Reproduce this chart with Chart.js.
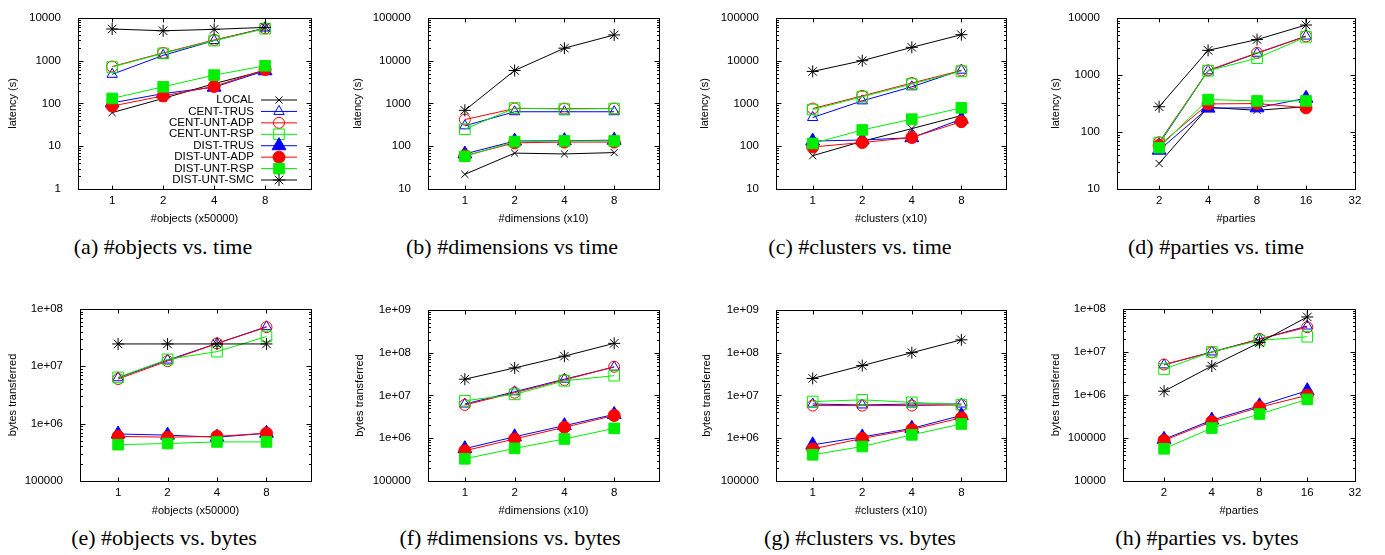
<!DOCTYPE html>
<html>
<head>
<meta charset="utf-8">
<script src="https://cdn.jsdelivr.net/npm/chart.js@4.4.1/dist/chart.umd.min.js"></script>
<style>
  body { margin: 0; background: #fff; width: 1385px; height: 555px; position: relative; overflow: hidden; }
  .cap { position: absolute; font-family: "Liberation Serif", "Times New Roman", serif; font-size: 22px; color: #000;
         white-space: nowrap; transform: translate(-50%, -50%); }
</style>
</head>
<body>
<script>
// ==================== DATA ====================

const seriesNames = ['LOCAL', 'CENT-TRUS', 'CENT-UNT-ADP', 'CENT-UNT-RSP',
                     'DIST-TRUS', 'DIST-UNT-ADP', 'DIST-UNT-RSP', 'DIST-UNT-SMC'];

const scaleX = [1, 2, 4, 8];          // x10 / x50000 multipliers
const partyX = [2, 4, 8, 16];
const scaleXTicks = [1, 2, 4, 8];
const partyXTicks = [2, 4, 8, 16, 32];

const ticksTimeA = [1, 10, 100, 1000, 10000];
const ticksTimeBC = [10, 100, 1000, 10000, 100000];
const ticksTimeD = [10, 100, 1000, 10000];
const ticksBytesE = [1e5, 1e6, 1e7, 1e8];
const ticksBytesFG = [1e5, 1e6, 1e7, 1e8, 1e9];
const ticksBytesH = [1e4, 1e5, 1e6, 1e7, 1e8];

// rows follow seriesNames; null = series not plotted
const objectsTime = [
    [61, 131, 290, 590],
    [480, 1330, 2950, 5800],
    [730, 1520, 3050, 5700],
    [710, 1480, 2950, 5600],
    [103, 170, 240, 580],
    [87, 150, 250, 620],
    [131, 245, 460, 760],
    [5500, 5000, 5400, 6000]
];
const dimensionsTime = [
    [22, 69, 66, 71],
    [300, 640, 640, 640],
    [420, 760, 760, 760],
    [250, 780, 740, 760],
    [66, 132, 135, 138],
    [60, 120, 125, 125],
    [58, 128, 133, 133],
    [690, 5900, 19600, 40000]
];
const clustersTime = [
    [60, 130, 258, 520],
    [470, 1150, 2450, 6000],
    [760, 1500, 3000, 5900],
    [720, 1430, 2850, 5700],
    [132, 140, 158, 430],
    [96, 122, 160, 375],
    [116, 240, 430, 790],
    [5600, 10000, 20500, 40500]
];
const partiesTime = [
    [28, 270, 240, 277],
    [62, 1180, 2400, 4800],
    [66, 1200, 2430, 4750],
    [64, 1180, 1970, 4650],
    [48, 262, 265, 390],
    [58, 310, 315, 265],
    [53, 370, 350, 350],
    [277, 2700, 4170, 7500]
];
const objectsBytes = [
    null,
    [6.3e6, 1.28e7, 2.5e7, 4.9e7],
    [6.0e6, 1.23e7, 2.5e7, 4.8e7],
    [6.4e6, 1.32e7, 1.8e7, 3.3e7],
    [6.6e5, 6.3e5, 5.8e5, 6.8e5],
    [6.0e5, 5.8e5, 6.0e5, 6.8e5],
    [4.3e5, 4.5e5, 4.8e5, 4.8e5],
    [2.45e7, 2.45e7, 2.45e7, 2.45e7]
];
const dimensionsBytes = [
    null,
    [6.3e6, 1.22e7, 2.4e7, 4.6e7],
    [6.0e6, 1.16e7, 2.3e7, 4.7e7],
    [7.5e6, 1.06e7, 2.2e7, 2.9e7],
    [5.7e5, 1.08e6, 1.97e6, 3.6e6],
    [5.1e5, 9.6e5, 1.8e6, 3.4e6],
    [3.3e5, 5.8e5, 9.6e5, 1.7e6],
    [2.4e7, 4.4e7, 8.3e7, 1.65e8]
];
const clustersBytes = [
    null,
    [6.3e6, 6.0e6, 6.3e6, 6.3e6],
    [5.8e6, 5.8e6, 5.8e6, 6.0e6],
    [7.2e6, 7.9e6, 6.9e6, 6.1e6],
    [7.0e5, 1.07e6, 1.7e6, 3.4e6],
    [5.6e5, 9.9e5, 1.6e6, 3.0e6],
    [4.1e5, 6.4e5, 1.2e6, 2.15e6],
    [2.5e7, 5.0e7, 1.0e8, 2.0e8]
];
const partiesBytes = [
    null,
    [5.0e6, 1.0e7, 1.97e7, 4.0e7],
    [5.1e6, 9.8e6, 2.0e7, 3.75e7],
    [4.0e6, 1.0e7, 1.85e7, 2.25e7],
    [9.3e4, 2.6e5, 5.6e5, 1.26e6],
    [8.8e4, 2.4e5, 5.2e5, 9.8e5],
    [5.6e4, 1.7e5, 3.6e5, 7.9e5],
    [1.22e6, 4.7e6, 1.65e7, 6.5e7]
];

// ==================== STYLES ====================

const seriesColors = ['#000000', '#0000ff', '#ff0000', '#00ee00', '#0000ff', '#ff0000', '#00ee00', '#000000'];
const seriesMarkers = ['crossRot', 'triangle', 'circle', 'rect', 'triangle', 'circle', 'rect', 'star'];
const seriesFilled = [false, false, false, false, true, true, true, false];
const seriesRadius = [5, 6, 5.5, 7.5, 8, 6, 7.5, 6];

// frame box [left, right, top, bottom] in page px
const panels = [
    { data: objectsTime, xs: scaleX, xTicks: scaleXTicks, yTicks: ticksTimeA, xRange: [-0.67, 3.9],
      xTitle: '#objects (x50000)', yTitle: 'latency (s)', box: [78, 312, 10, 189], yGap: 65,
      caption: '(a) #objects vs. time', cap: [163, 247], legend: true },
    { data: dimensionsTime, xs: scaleX, xTicks: scaleXTicks, yTicks: ticksTimeBC, xRange: [-0.74, 3.9],
      xTitle: '#dimensions (x10)', yTitle: 'latency (s)', box: [428, 660, 10, 189], yGap: 70,
      caption: '(b) #dimensions vs time', cap: [512, 247] },
    { data: clustersTime, xs: scaleX, xTicks: scaleXTicks, yTicks: ticksTimeBC, xRange: [-0.74, 3.9],
      xTitle: '#clusters (x10)', yTitle: 'latency (s)', box: [776, 1007, 10, 189], yGap: 71,
      caption: '(c) #clusters vs. time', cap: [860, 247] },
    { data: partiesTime, xs: partyX, xTicks: partyXTicks, yTicks: ticksTimeD, xRange: [0.14, 5.0],
      xTitle: '#parties', yTitle: 'latency (s)', box: [1117, 1356, 10, 189], yGap: 61,
      caption: '(d) #parties vs. time', cap: [1216, 247] },
    { data: objectsBytes, xs: scaleX, xTicks: scaleXTicks, yTicks: ticksBytesE, xRange: [-0.77, 3.9],
      xTitle: '#objects (x50000)', yTitle: 'bytes transferred', box: [80, 312, 301, 481], yGap: 67,
      caption: '(e) #objects vs. bytes', cap: [164, 538] },
    { data: dimensionsBytes, xs: scaleX, xTicks: scaleXTicks, yTicks: ticksBytesFG, xRange: [-0.74, 3.9],
      xTitle: '#dimensions (x10)', yTitle: 'bytes transferred', box: [428, 660, 302, 481], yGap: 68,
      caption: '(f) #dimensions vs. bytes', cap: [510, 538] },
    { data: clustersBytes, xs: scaleX, xTicks: scaleXTicks, yTicks: ticksBytesFG, xRange: [-0.74, 3.9],
      xTitle: '#clusters (x10)', yTitle: 'bytes transferred', box: [776, 1007, 302, 481], yGap: 69,
      caption: '(g) #clusters vs. bytes', cap: [860, 538] },
    { data: partiesBytes, xs: partyX, xTicks: partyXTicks, yTicks: ticksBytesH, xRange: [0.14, 5.0],
      xTitle: '#parties', yTitle: 'bytes transferred', box: [1123, 1356, 301, 481], yGap: 67,
      caption: '(h) #parties vs. bytes', cap: [1207, 538] }
];

const FONT = '"Liberation Sans", Arial, Helvetica, sans-serif';
const Y_AXIS_W = 80;
const X_AXIS_H = 41;
const PAD = 8;

Chart.defaults.font.family = FONT;
Chart.defaults.color = '#000';

function yLabel(v) {
    if (v >= 1e6) return '1e+' + String(Math.round(Math.log10(v))).padStart(2, '0');
    return String(v);
}

// gnuplot style frame with inward ticks
const gnuFrame = {
    id: 'gnuFrame',
    afterDraw(chart) {
        const { ctx, chartArea: a, scales } = chart;
        const xs = scales.x, ys = scales.y;
        ctx.save();
        ctx.strokeStyle = '#000';
        ctx.lineWidth = 1;
        const l = Math.round(a.left) + 0.5, r = Math.round(a.right) + 0.5;
        const t = Math.round(a.top) + 0.5, b = Math.round(a.bottom) + 0.5;
        ctx.strokeRect(l, t, r - l, b - t);
        ctx.beginPath();
        ys.ticks.forEach(tk => {
            const py = Math.round(ys.getPixelForValue(tk.value)) + 0.5;
            ctx.moveTo(l, py); ctx.lineTo(l + 5, py);
            ctx.moveTo(r, py); ctx.lineTo(r - 5, py);
            if (tk.value < ys.max) {
                for (let m = 2; m < 10; m++) {
                    const my = Math.round(ys.getPixelForValue(tk.value * m)) + 0.5;
                    ctx.moveTo(l, my); ctx.lineTo(l + 2.5, my);
                    ctx.moveTo(r, my); ctx.lineTo(r - 2.5, my);
                }
            }
        });
        xs.ticks.forEach(tk => {
            const px = Math.round(xs.getPixelForValue(tk.value)) + 0.5;
            ctx.moveTo(px, b); ctx.lineTo(px, b - 4);
            ctx.moveTo(px, t); ctx.lineTo(px, t + 4);
        });
        ctx.stroke();
        ctx.restore();
    }
};

// key drawn inside the plot, text right of sample like gnuplot
const insideKey = {
    id: 'insideKey',
    afterDatasetsDraw(chart, args, opts) {
        if (!opts.show) return;
        const { ctx, chartArea: a } = chart;
        ctx.save();
        ctx.font = '11.5px ' + FONT;
        ctx.textAlign = 'right';
        ctx.textBaseline = 'middle';
        chart.data.datasets.forEach((ds, i) => {
            const y = a.bottom - 89 + i * 11.43;
            ctx.fillStyle = '#000';
            ctx.fillText(ds.label, a.right - 57, y);
            ctx.strokeStyle = ds.borderColor;
            ctx.lineWidth = 1;
            ctx.beginPath();
            ctx.moveTo(a.right - 50, y);
            ctx.lineTo(a.right - 14, y);
            ctx.stroke();
            ctx.fillStyle = ds.pointBackgroundColor;
            ctx.strokeStyle = ds.pointBorderColor;
            Chart.helpers.drawPoint(ctx, {
                pointStyle: ds.pointStyle, radius: ds.pointRadius, borderWidth: 1, rotation: 0
            }, a.right - 32, y);
        });
        ctx.restore();
    }
};

function buildDatasets(p) {
    const out = [];
    p.data.forEach((row, i) => {
        if (!row) return;
        out.push({
            label: seriesNames[i],
            data: row.map((v, k) => ({ x: Math.log2(p.xs[k]), y: v })),
            borderColor: seriesColors[i],
            borderWidth: 1,
            pointStyle: seriesMarkers[i],
            pointRadius: seriesRadius[i],
            pointBorderColor: seriesColors[i],
            pointBackgroundColor: seriesFilled[i] ? seriesColors[i] : 'rgba(0,0,0,0)',
            pointBorderWidth: 1,
            tension: 0,
            order: seriesNames.length - i
        });
    });
    return out;
}

panels.forEach(p => {
    const [L, R, T, B] = p.box;
    const w = R - L + Y_AXIS_W + PAD;
    const h = B - T + PAD + X_AXIS_H;
    const cv = document.createElement('canvas');
    cv.width = w;
    cv.height = h;
    cv.style.cssText = `position:absolute;left:${L - Y_AXIS_W}px;top:${T - PAD}px;width:${w}px;height:${h}px`;
    document.body.appendChild(cv);

    new Chart(cv.getContext('2d'), {
        type: 'line',
        data: { datasets: buildDatasets(p) },
        options: {
            responsive: false,
            animation: false,
            devicePixelRatio: 1,
            events: [],
            layout: { padding: { top: PAD, right: PAD, left: 0, bottom: 0 } },
            plugins: {
                legend: { display: false },
                tooltip: { enabled: false },
                insideKey: { show: !!p.legend }
            },
            scales: {
                x: {
                    type: 'linear',
                    min: p.xRange[0],
                    max: p.xRange[1],
                    grid: { display: false },
                    border: { display: false },
                    afterBuildTicks: s => { s.ticks = p.xTicks.map(v => ({ value: Math.log2(v) })); },
                    afterFit: s => { s.height = X_AXIS_H; },
                    ticks: {
                        autoSkip: false, maxRotation: 0, padding: -3,
                        font: { size: 11.5 },
                        callback: v => String(Math.round(Math.pow(2, v)))
                    },
                    title: { display: true, text: p.xTitle, font: { size: 11 }, padding: { top: 4, bottom: 4 } }
                },
                y: {
                    type: 'logarithmic',
                    min: p.yTicks[0],
                    max: p.yTicks[p.yTicks.length - 1],
                    grid: { display: false },
                    border: { display: false },
                    afterBuildTicks: s => { s.ticks = p.yTicks.map(v => ({ value: v, major: true })); },
                    afterFit: s => { s.width = Y_AXIS_W; },
                    ticks: {
                        autoSkip: false, padding: 9,
                        font: { size: 11.5 },
                        callback: v => yLabel(v)
                    },
                    title: { display: true, text: p.yTitle, font: { size: 11 },
                             padding: { top: Y_AXIS_W - p.yGap - 6.6, bottom: 0 } }
                }
            }
        },
        plugins: [gnuFrame, insideKey]
    });

    const cap = document.createElement('div');
    cap.className = 'cap';
    cap.style.left = p.cap[0] + 'px';
    cap.style.top = p.cap[1] + 'px';
    cap.textContent = p.caption;
    document.body.appendChild(cap);
});
</script>
</body>
</html>
